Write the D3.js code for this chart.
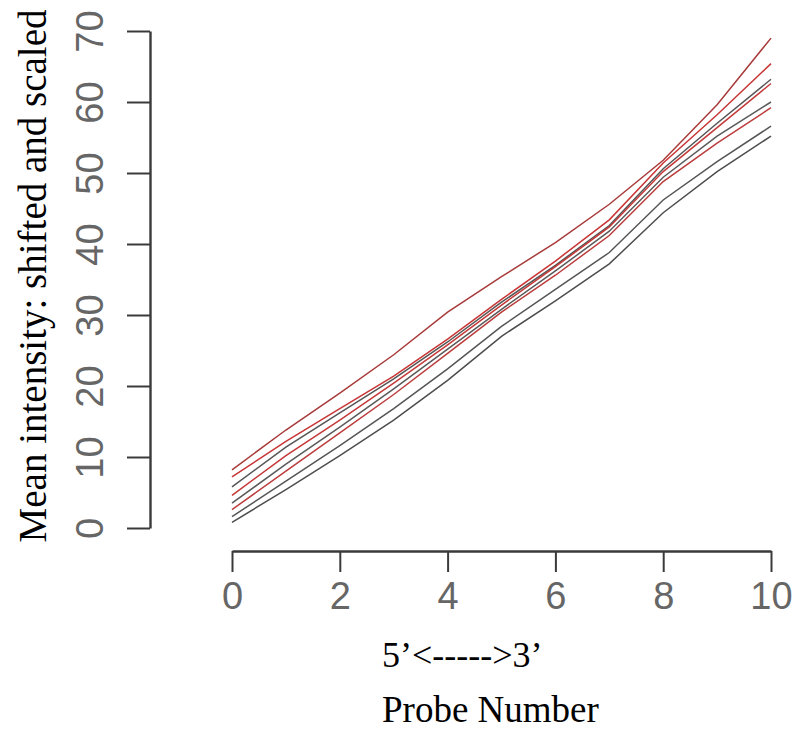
<!DOCTYPE html>
<html>
<head>
<meta charset="utf-8">
<script src="https://cdn.jsdelivr.net/npm/d3@7"></script>
<style>
  body { margin: 0; background: #fff; }
  svg { display: block; }
</style>
</head>
<body>
<script>
// probe positions along the x axis
var probes = [0, 1, 2, 3, 4, 5, 6, 7, 8, 9, 10];

// one array per chip
var chip1 = [8.2, 13.8, 19.0, 24.4, 30.4, 35.4, 40.2, 45.6, 51.8, 59.6, 69.0];
var chip2 = [7.2, 12.2, 16.8, 21.4, 26.6, 32.2, 37.6, 43.4, 51.4, 58.2, 65.4];
var chip3 = [5.8, 11.4, 16.2, 21.0, 26.2, 31.8, 37.0, 42.6, 50.6, 57.0, 63.2];
var chip4 = [4.6, 10.2, 15.2, 20.4, 25.8, 31.4, 36.8, 42.4, 50.2, 56.4, 62.6];
var chip5 = [3.5, 9.0, 14.2, 19.6, 25.2, 30.8, 36.2, 41.8, 49.4, 55.2, 60.0];
var chip6 = [2.6, 8.0, 13.4, 18.8, 24.6, 30.4, 35.6, 41.2, 48.8, 54.2, 59.2];
var chip7 = [1.6, 6.6, 11.6, 16.8, 22.4, 28.4, 33.6, 38.8, 46.2, 51.6, 56.6];
var chip8 = [0.8, 5.4, 10.2, 15.2, 20.8, 27.0, 32.0, 37.2, 44.4, 50.2, 55.2];

var chips = [chip1, chip2, chip3, chip4, chip5, chip6, chip7, chip8];
var chipColors = ["#a83a3a", "#c83535", "#555555", "#c43838", "#5a5a5a", "#bb3c3c", "#555555", "#4d4d4d"];

var xTicks = [0, 2, 4, 6, 8, 10];
var yTicks = [0, 10, 20, 30, 40, 50, 60, 70];

var width = 796, height = 729;

// scales
var x = d3.scaleLinear().domain([0, 10]).range([232, 771]);
var y = d3.scaleLinear().domain([0, 70]).range([528, 31]);

var svg = d3.select("body")
            .append("svg")
            .attr("width", width)
            .attr("height", height);

var valueline = d3.line()
                .x(function(d, i){ return x(probes[i]); })
                .y(function(d){ return y(d); });

// one line per chip
svg.append("g")
    .selectAll("path")
    .data(chips)
    .enter()
    .append("path")
      .attr("d", valueline)
      .attr("fill", "none")
      .attr("stroke", function(d, i){ return chipColors[i]; })
      .attr("stroke-width", 1.5);

// x axis, drawn away from the plot like R does
var xAxis = svg.append("g")
    .attr("transform", "translate(0,551)")
    .call(d3.axisBottom(x).tickValues(xTicks).tickSize(21).tickSizeOuter(0).tickPadding(10));

// y axis
var yAxis = svg.append("g")
    .attr("transform", "translate(150,0)")
    .call(d3.axisLeft(y).tickValues(yTicks).tickSize(23).tickSizeOuter(0));

[xAxis, yAxis].forEach(function(g){
    g.select(".domain").attr("stroke", "#3a3a3a").attr("stroke-width", 2.4);
    g.selectAll(".tick line").attr("stroke", "#3a3a3a").attr("stroke-width", 2);
    g.selectAll(".tick text")
        .attr("fill", "#666")
        .style("font-family", "'Liberation Sans', Arial, sans-serif")
        .style("font-size", "38px");
});

// rotate the y tick labels, R style
yAxis.selectAll(".tick text")
    .attr("x", null)
    .attr("dy", null)
    .attr("text-anchor", "middle")
    .attr("transform", "translate(-47,0) rotate(-90)");

// y title
svg.append("text")
    .attr("transform", "translate(46," + y(35.5) + ") rotate(-90)")
    .attr("text-anchor", "middle")
    .style("font-family", "'Liberation Serif', 'Times New Roman', serif")
    .style("font-size", "39px")
    .style("fill", "#000")
    .text("Mean intensity: shifted and scaled");

// x title, two lines
svg.append("text")
    .attr("x", 382)
    .attr("y", 667)
    .style("font-family", "'Liberation Serif', 'Times New Roman', serif")
    .style("font-size", "36px")
    .style("fill", "#000")
    .text("5\u2019<----->3\u2019");

svg.append("text")
    .attr("x", 382)
    .attr("y", 722)
    .style("font-family", "'Liberation Serif', 'Times New Roman', serif")
    .style("font-size", "37px")
    .style("fill", "#000")
    .text("Probe Number");
</script>
</body>
</html>
